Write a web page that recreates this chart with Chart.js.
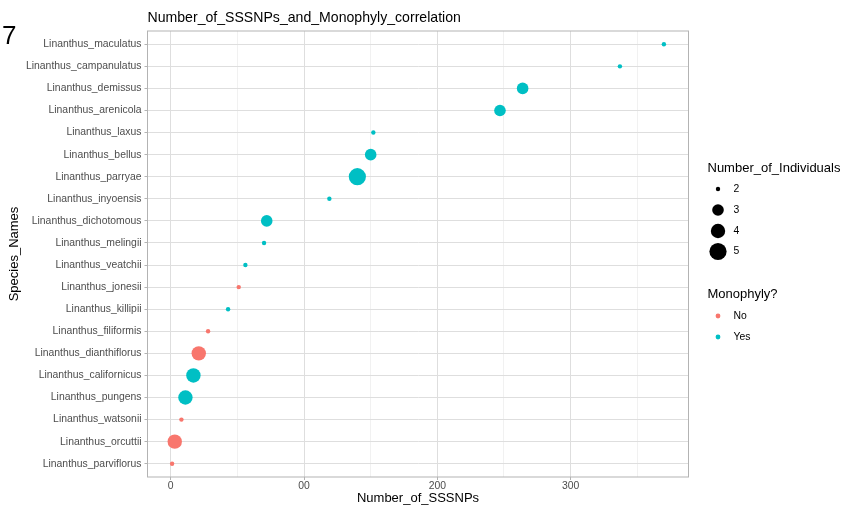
<!DOCTYPE html>
<html>
<head>
<meta charset="utf-8">
<script src="https://cdn.jsdelivr.net/npm/chart.js@4/dist/chart.umd.min.js"></script>
<style>
  html, body { margin: 0; padding: 0; background: #fff; }
  #wrap { position: relative; width: 841px; height: 507px; }
</style>
</head>
<body>
<div id="wrap"><canvas id="snpChart" width="841" height="507"></canvas></div>
<script>
// species, top to bottom
const species = [
  "Linanthus_maculatus", "Linanthus_campanulatus", "Linanthus_demissus",
  "Linanthus_arenicola", "Linanthus_laxus", "Linanthus_bellus",
  "Linanthus_parryae", "Linanthus_inyoensis", "Linanthus_dichotomous",
  "Linanthus_melingii", "Linanthus_veatchii", "Linanthus_jonesii",
  "Linanthus_killipii", "Linanthus_filiformis", "Linanthus_dianthiflorus",
  "Linanthus_californicus", "Linanthus_pungens", "Linanthus_watsonii",
  "Linanthus_orcuttii", "Linanthus_parviflorus"
];
const sssnps = [370, 337, 264, 247, 152, 150, 140, 119, 72, 70, 56, 51, 43, 28, 21, 17, 11, 8, 3, 1];
const individuals = [2, 2, 3, 3, 2, 3, 5, 2, 3, 2, 2, 2, 2, 2, 4, 4, 4, 2, 4, 2];
const monophyly = ["Yes", "Yes", "Yes", "Yes", "Yes", "Yes", "Yes", "Yes", "Yes", "Yes",
  "Yes", "No", "Yes", "No", "No", "Yes", "Yes", "No", "No", "No"];

const xTicks = [0, 100, 200, 300];
const xTickLabels = ["0", "00", "200", "300"];
const sizeLevels = [2, 3, 4, 5];
const groupLevels = ["No", "Yes"];

const groupColor = { No: "#F8766D", Yes: "#00BFC4" };
const sizeRadius = { 2: 2.2, 3: 5.8, 4: 7.2, 5: 8.6 };
const FONT = '"Liberation Sans", Arial, Helvetica, sans-serif';

// panel edges in px
const panelLeft = 147.5, panelRight = 688.5, panelTop = 31, panelBottom = 477;

// titles, panel border and the two legends
const decorations = {
  id: "decorations",
  afterDraw(chart) {
    const ctx = chart.ctx;
    const area = chart.chartArea;
    ctx.save();

    ctx.strokeStyle = "#B3B3B3";
    ctx.lineWidth = 1;
    ctx.strokeRect(area.left, area.top, area.right - area.left, area.bottom - area.top);

    ctx.fillStyle = "#000";
    ctx.textBaseline = "alphabetic";
    ctx.textAlign = "left";
    ctx.font = "26px " + FONT;
    ctx.fillText("7", 2, 44);

    ctx.font = "14.1px " + FONT;
    ctx.fillText("Number_of_SSSNPs_and_Monophyly_correlation", area.left, 22);

    ctx.font = "13px " + FONT;
    ctx.textAlign = "center";
    ctx.textBaseline = "middle";
    ctx.fillText("Number_of_SSSNPs", (area.left + area.right) / 2, 498);

    ctx.save();
    ctx.translate(14, (area.top + area.bottom) / 2);
    ctx.rotate(-Math.PI / 2);
    ctx.fillText("Species_Names", 0, 0);
    ctx.restore();

    // size legend
    ctx.textAlign = "left";
    ctx.font = "13px " + FONT;
    ctx.fillText("Number_of_Individuals", 707.5, 168);
    const sizeY = [189, 210, 231, 251.5];
    ctx.font = "10.4px " + FONT;
    sizeLevels.forEach((lv, i) => {
      ctx.fillStyle = "#000";
      ctx.beginPath();
      ctx.arc(718, sizeY[i], sizeRadius[lv], 0, Math.PI * 2);
      ctx.fill();
      ctx.fillText(String(lv), 733.5, sizeY[i]);
    });

    // colour legend
    ctx.font = "13px " + FONT;
    ctx.fillText("Monophyly?", 707.5, 294);
    const groupY = [316, 337];
    ctx.font = "10.4px " + FONT;
    groupLevels.forEach((g, i) => {
      ctx.fillStyle = groupColor[g];
      ctx.beginPath();
      ctx.arc(718, groupY[i], 2.4, 0, Math.PI * 2);
      ctx.fill();
      ctx.fillStyle = "#000";
      ctx.fillText(g, 733.5, groupY[i]);
    });

    ctx.restore();
  }
};

const ctx = document.getElementById("snpChart").getContext("2d");
const snpChart = new Chart(ctx, {
  type: "scatter",
  data: {
    datasets: [{
      data: sssnps.map((v, i) => ({ x: v, y: i })),
      pointRadius: individuals.map((n) => sizeRadius[n]),
      pointHoverRadius: individuals.map((n) => sizeRadius[n]),
      backgroundColor: monophyly.map((g) => groupColor[g]),
      borderWidth: 0,
      pointBorderWidth: 0
    }]
  },
  options: {
    responsive: false,
    animation: false,
    events: [],
    layout: { padding: { top: panelTop, right: 841 - panelRight, bottom: 0, left: 0 } },
    plugins: { legend: { display: false }, tooltip: { enabled: false }, title: { display: false } },
    scales: {
      x: {
        type: "linear",
        min: -17.45,
        max: 388.45,
        afterBuildTicks: (scale) => {
          scale.ticks = [0, 50, 100, 150, 200, 250, 300, 350].map((v) => ({ value: v }));
        },
        afterFit: (scale) => { scale.height = 507 - panelBottom; },
        border: { display: false },
        grid: {
          color: (c) => (c.tick && c.tick.value % 100 === 0 ? "#DEDEDE" : "#EBEBEB"),
          lineWidth: (c) => (c.tick && c.tick.value % 100 === 0 ? 1 : 0.7),
          tickColor: (c) => (c.tick && c.tick.value % 100 === 0 ? "#B3B3B3" : "rgba(0,0,0,0)"),
          tickLength: 3
        },
        ticks: {
          autoSkip: false,
          maxRotation: 0,
          padding: 0,
          color: "#4D4D4D",
          font: { family: FONT, size: 10.4 },
          callback: (v) => {
            const k = xTicks.indexOf(v);
            return k >= 0 ? xTickLabels[k] : "";
          }
        }
      },
      y: {
        type: "linear",
        reverse: true,
        min: -0.6,
        max: species.length - 0.4,
        afterBuildTicks: (scale) => {
          scale.ticks = species.map((s, i) => ({ value: i }));
        },
        afterFit: (scale) => { scale.width = panelLeft; },
        border: { display: false },
        grid: {
          color: "#DEDEDE",
          lineWidth: 1,
          tickColor: "#B3B3B3",
          tickLength: 3
        },
        ticks: {
          autoSkip: false,
          padding: 3,
          color: "#4D4D4D",
          font: { family: FONT, size: 10.4 },
          callback: (v) => species[v]
        }
      }
    }
  },
  plugins: [decorations]
});
</script>
</body>
</html>
